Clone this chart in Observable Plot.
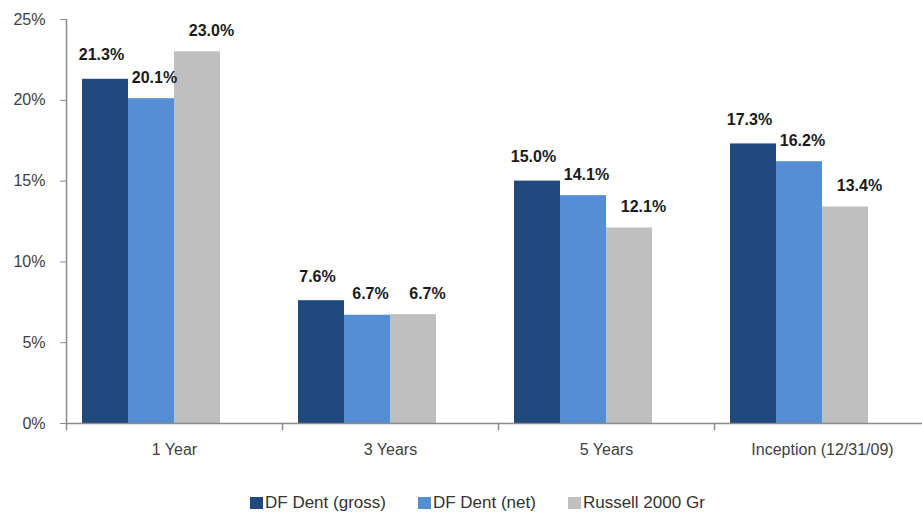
<!DOCTYPE html>
<html>
<head>
<meta charset="utf-8">
<script src="https://cdn.jsdelivr.net/npm/d3@7"></script>
<script src="https://cdn.jsdelivr.net/npm/@observablehq/plot@0.6"></script>
<style>
  html, body { margin: 0; padding: 0; background: #fff; }
  #chart { width: 922px; font-family: "Liberation Sans", Arial, sans-serif; }
  #chart svg { display: block; }
  .legend { display: flex; align-items: center; padding-left: 250px; padding-top: 23px; height: 20px;
            font-family: "Liberation Sans", Arial, sans-serif; font-size: 17px; color: #333; }
  .legend .item { display: flex; align-items: center; margin-right: 32px; }
  .legend .sw { width: 13px; height: 12px; margin-right: 2px; }
</style>
</head>
<body>
<div id="chart"></div>
<script>
const categories = ["1 Year", "3 Years", "5 Years", "Inception (12/31/09)"];
const seriesNames = ["DF Dent (gross)", "DF Dent (net)", "Russell 2000 Gr"];
const grossValues = [21.3, 7.6, 15.0, 17.3];
const netValues = [20.1, 6.7, 14.1, 16.2];
const russellValues = [23.0, 6.74, 12.1, 13.4];
const seriesColors = ["#1F497D", "#558ED5", "#BFBFBF"];
const yTicks = [0, 5, 10, 15, 20, 25];

const seriesValues = [grossValues, netValues, russellValues];
const data = categories.flatMap((c, i) =>
  seriesNames.map((s, j) => ({category: c, series: s, value: seriesValues[j][i]})));

const W = 922, H = 470, mTop = 19, mBottom = 47;
const labelDx = [-4, 3, 14];
const labelDy = [-24, -21, -21];

const plot = Plot.plot({
  width: W,
  height: H,
  marginLeft: 64,
  marginRight: -9,
  marginTop: mTop,
  marginBottom: mBottom,
  style: {fontFamily: "Liberation Sans, Arial, sans-serif", fontSize: "16px", color: "#404040", background: "#fff"},
  fx: {domain: categories, paddingInner: 0, paddingOuter: 0, label: null, axis: null},
  x: {domain: [...seriesNames, "_"], paddingInner: 0, paddingOuter: 0.305, axis: null},
  y: {domain: [0, 25], axis: null},
  color: {domain: seriesNames, range: seriesColors},
  marks: [
    Plot.barY(data, {fx: "category", x: "series", y: "value", fill: "series"}),
    Plot.ruleY([0], {stroke: "#8c8c8c", strokeWidth: 1.5}),
    Plot.frame({anchor: "left", facetAnchor: "left", stroke: "#8c8c8c", strokeWidth: 1.5}),
    Plot.frame({anchor: "left", stroke: "#8c8c8c", strokeWidth: 1.5,
                insetTop: H - mTop - mBottom, insetBottom: -6}),
    Plot.axisY({ticks: yTicks, tickFormat: d => d + "%", tickSize: 6, tickPadding: 15,
                stroke: "#8c8c8c", fill: "#404040", fontSize: 16, label: null}),
    Plot.axisFx({anchor: "bottom", tickSize: 0, tickPadding: 20, fill: "#404040", fontSize: 16, label: null}),
    ...seriesNames.map((s, j) =>
      Plot.text(data.filter(d => d.series === s), {
        fx: "category", x: "series", y: "value",
        text: d => d.value.toFixed(1) + "%",
        dx: labelDx[j], dy: labelDy[j],
        fontWeight: "bold", fontSize: 16, fill: "#1a1a1a"
      }))
  ]
});

const chart = document.getElementById("chart");
chart.appendChild(plot);

const legend = d3.select(chart).append("div").attr("class", "legend");
seriesNames.forEach((s, j) => {
  const item = legend.append("div").attr("class", "item");
  item.append("div").attr("class", "sw").style("background", seriesColors[j]);
  item.append("span").text(s);
});
</script>
</body>
</html>
